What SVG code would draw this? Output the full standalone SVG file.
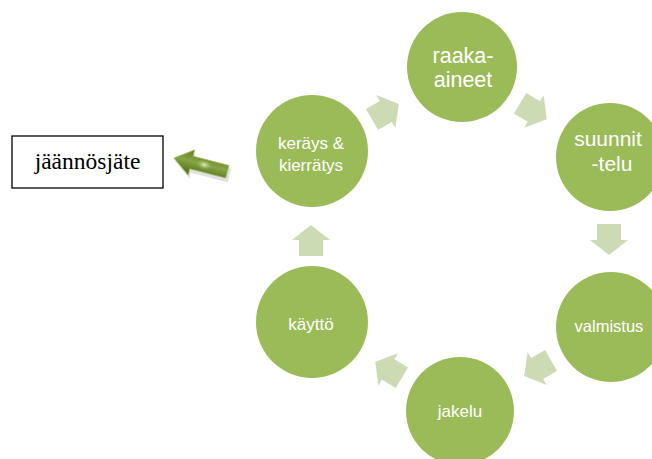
<svg xmlns="http://www.w3.org/2000/svg" width="652" height="459" viewBox="0 0 652 459">
<style>
.c{fill:#9bbb59}
.t{fill:#ffffff;font-family:"Liberation Sans",Arial,sans-serif;text-anchor:middle}
.a{fill:#cddbb5}
</style>
<defs>
<path id="blk" d="M-15,-12 L1,-12 L1,-19 L16,0 L1,19 L1,12 L-15,12 Z"/>
<linearGradient id="g" x1="0" y1="0" x2="0" y2="1">
<stop offset="0" stop-color="#5e7a26"/>
<stop offset="0.45" stop-color="#86a543"/>
<stop offset="1" stop-color="#4a6419"/>
</linearGradient>
<radialGradient id="hl" cx="0.5" cy="0.5" r="0.5">
<stop offset="0" stop-color="#e6f0c8" stop-opacity="0.95"/>
<stop offset="1" stop-color="#9bbb59" stop-opacity="0"/>
</radialGradient>
</defs>
<rect width="652" height="459" fill="#ffffff"/>
<g id="jaannosjate">
<rect x="12" y="136" width="151" height="52" fill="#ffffff" stroke="#000000" stroke-width="1.3"/>
<text x="87.5" y="169" font-family="'Liberation Serif','Times New Roman',serif" font-size="23.5" text-anchor="middle" fill="#000000">jäännösjäte</text>
</g>
<g id="raaka-aineet">
<circle class="c" cx="462" cy="67" r="55"/>
<text class="t" x="463" y="63" font-size="21.5">raaka-</text>
<text class="t" x="463" y="87" font-size="21.5">aineet</text>
</g>
<g id="suunnittelu">
<circle class="c" cx="610" cy="157" r="54"/>
<text class="t" x="608" y="146" font-size="21">suunnit</text>
<text class="t" x="612" y="171" font-size="21">-telu</text>
</g>
<g id="valmistus">
<circle class="c" cx="611" cy="327" r="55"/>
<text class="t" x="609" y="332" font-size="16.5">valmistus</text>
</g>
<g id="jakelu">
<circle class="c" cx="460" cy="411" r="54"/>
<text class="t" x="460" y="417" font-size="17">jakelu</text>
</g>
<g id="kaytto">
<circle class="c" cx="312" cy="322" r="56"/>
<text class="t" x="311" y="330" font-size="17">käyttö</text>
</g>
<g id="kerays">
<circle class="c" cx="312" cy="151" r="56"/>
<text class="t" x="311" y="149" font-size="17">keräys &amp;</text>
<text class="t" x="311" y="171" font-size="17">kierrätys</text>
</g>
<g id="connectors">
<use href="#blk" class="a" transform="translate(385,112) rotate(-30)"/>
<use href="#blk" class="a" transform="translate(533,111) rotate(31)"/>
<use href="#blk" class="a" transform="translate(609,239) rotate(90)"/>
<use href="#blk" class="a" transform="translate(538,368) rotate(150)"/>
<use href="#blk" class="a" transform="translate(389,370) rotate(211)"/>
<use href="#blk" class="a" transform="translate(311,241) rotate(-90)"/>
<g transform="translate(174,158) rotate(14.5)">
<path d="M2,3 L20,-10 L20,-4 L58,-4 L58,10 L20,10 L20,16 Z" fill="#000000" opacity="0.12"/>
<path d="M0,0 L18,-13 L18,-6.5 L55,-6.5 L55,6.5 L18,6.5 L18,13 Z" fill="url(#g)" stroke="#9bbb59" stroke-width="0.8"/>
<ellipse cx="31" cy="-1" rx="8" ry="5" fill="url(#hl)"/>
</g>
</g>
</svg>
